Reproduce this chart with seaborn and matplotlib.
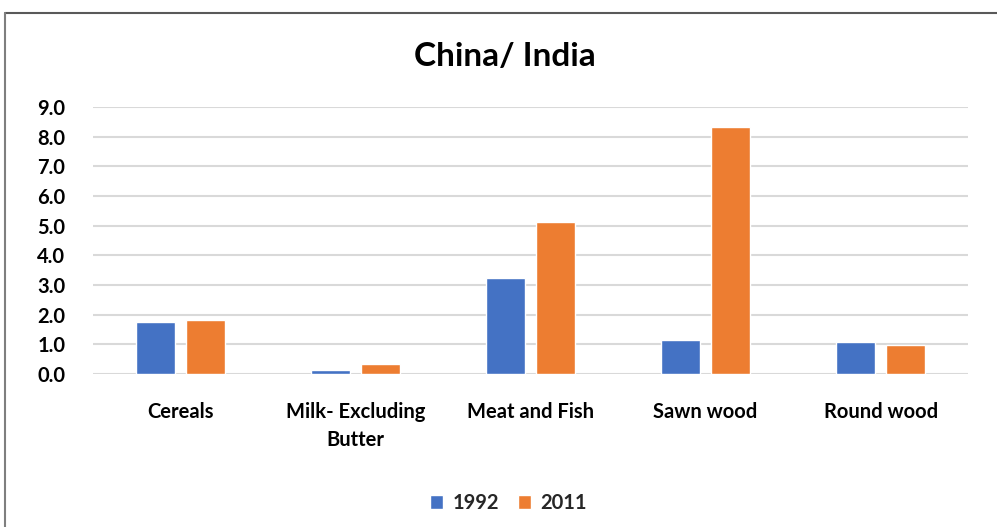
import matplotlib
matplotlib.use("Agg")
import matplotlib.pyplot as plt
import seaborn as sns
import pandas as pd
from matplotlib.lines import Line2D

categories = ["Cereals", "Milk- Excluding\nButter", "Meat and Fish", "Sawn wood", "Round wood"]
years = ["1992", "2011"]
values_1992 = [1.74, 0.13, 3.25, 1.14, 1.07]
values_2011 = [1.83, 0.34, 5.12, 8.31, 0.97]
y_ticks = [0.0, 1.0, 2.0, 3.0, 4.0, 5.0, 6.0, 7.0, 8.0, 9.0]

df = pd.DataFrame({
    "category": categories * 2,
    "year": [years[0]] * len(categories) + [years[1]] * len(categories),
    "value": values_1992 + values_2011,
})

sns.set_theme(style="white")
plt.rcParams["font.family"] = ["Lato", "DejaVu Sans"]
plt.rcParams["font.weight"] = "bold"

palette = {"1992": "#4472C4", "2011": "#ED7D31"}
label_size = 14.5

fig = plt.figure(figsize=(9.97, 5.27), dpi=100)
ax = fig.add_axes([0.0933, 0.2903, 0.971 - 0.0933, 0.797 - 0.2903])

sns.barplot(data=df, x="category", y="value", hue="year", order=categories,
            hue_order=years, palette=palette, width=0.57, gap=0.22,
            saturation=1, ax=ax, legend=True, zorder=3)

ax.set_xlim(-0.5, len(categories) - 0.5)
ax.set_ylim(0, 9.0)
ax.set_yticks(y_ticks)
ax.set_yticklabels([f"{t:.1f}" for t in y_ticks], fontsize=label_size,
                   fontweight="bold", color="black")
ax.set_xticks(range(len(categories)))
ax.set_xticklabels(categories, fontsize=label_size, fontweight="bold",
                   color="black", linespacing=1.5)
ax.tick_params(axis="x", length=0, pad=20)
ax.tick_params(axis="y", length=0, pad=20)
ax.set_xlabel("")
ax.set_ylabel("")
ax.grid(axis="y", color="#d9d9d9", linewidth=1.5, zorder=0)
ax.grid(axis="x", visible=False)
for s in ax.spines.values():
    s.set_visible(False)

fig.text(0.5065, 0.893, "China/ India", ha="center", va="center",
         fontsize=24, fontweight="bold", color="black")

handles, labels = ax.get_legend_handles_labels()
ax.legend_.remove()
fig.legend(handles, labels, loc="center", bbox_to_anchor=(0.51, 0.045), ncol=2,
           frameon=False, handlelength=0.65, handleheight=0.65,
           handletextpad=0.5, columnspacing=0.9,
           prop={"weight": "bold", "size": label_size})

# chart frame: top and left edges
fig.add_artist(Line2D([5 / 997, 1.0], [1 - 13 / 527, 1 - 13 / 527],
                      transform=fig.transFigure, color="#595959", linewidth=1.5))
fig.add_artist(Line2D([5 / 997, 5 / 997], [0, 1 - 13 / 527],
                      transform=fig.transFigure, color="#7f7f7f", linewidth=1.5))

fig.savefig("out.png", dpi=100, facecolor="white")
